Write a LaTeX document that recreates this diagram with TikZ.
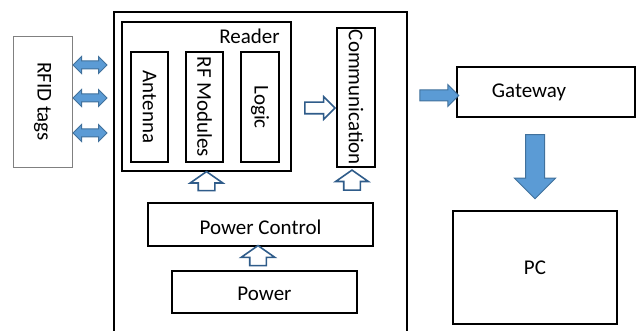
\documentclass[tikz,border=0pt]{standalone}
\usepackage{fontspec}
\setmainfont{Carlito}
\usetikzlibrary{shapes.arrows,calc}
\definecolor{arrfill}{HTML}{5B9BD5}
\definecolor{arrline}{HTML}{41719C}
\definecolor{openline}{HTML}{2F5C8A}
\tikzset{
  box/.style={draw, line width=1.8pt, inner sep=0pt},
  tagbox/.style={draw=gray, line width=0.9pt, inner sep=0pt},
  fillarrow/.style={single arrow, draw=arrline, fill=arrfill, line width=1pt, inner sep=0pt},
  openarrow/.style={single arrow, draw=openline, fill=white, line width=1.6pt, inner sep=0pt, single arrow tip angle=110},
  tagarrow/.style={double arrow, draw=arrline, fill=arrfill, line width=1pt, inner sep=0pt}
}
\begin{document}
\begin{tikzpicture}[x=1pt,y=-1pt,font=\fontsize{21}{25}\selectfont]
\clip (0,0) rectangle (640,331);
% reader unit
\node[box, minimum width=293, minimum height=336] (unit) at (260.5,180) {};
\node[box, minimum width=169, minimum height=149] (reader) at (206.5,96.5) {};
\node[anchor=north east, inner sep=0pt] (readerlbl) at ([xshift=-12pt,yshift=-8pt]reader.north east) {Reader};
\node[box, rotate=-90, minimum width=110, minimum height=37] (antenna) at (149.5,107) {Antenna};
\node[box, rotate=-90, minimum width=110, minimum height=37] (rfmod) at (204.5,107) {RF Modules};
\node[box, rotate=-90, minimum width=110, minimum height=38] (logic) at (260,107) {Logic};
\node[box, rotate=-90, minimum width=139, minimum height=38] (comm) at (356,97.5) {Communication};
\node[box, minimum width=225, minimum height=43] (pwrctl) at (260.5,224.5) {};
\node (pwrctllbl) at ([yshift=-2.5pt]pwrctl.center) {Power Control};
\node[box, minimum width=185, minimum height=42] (power) at (264.5,292) {};
\node (powerlbl) at ([yshift=-2pt]power.center) {Power};
% outside
\node[tagbox, rotate=-90, minimum width=131, minimum height=59] (tags) at (42.5,101.5) {RFID tags};
\node[box, minimum width=178, minimum height=50] (gateway) at (546,92) {};
\node (gwlbl) at ([xshift=-17pt]gateway.center) {Gateway};
\node[box, minimum width=164, minimum height=113] (pc) at (535,267.5) {PC};
% arrows
\foreach \y [count=\i] in {65,98,133}
  \node[tagarrow, minimum height=34, minimum width=16, inner ysep=3.5pt, double arrow head extend=4.5pt] (tagarr\i) at (90,\y) {};
\node[openarrow, minimum height=30, minimum width=21, inner ysep=5pt, single arrow head extend=5.5pt, single arrow tip angle=90] (rdarr) at (317,108) {};
\node[openarrow, rotate=90, minimum height=19, minimum width=31, inner ysep=7.5pt, single arrow head extend=8pt] (uparr1) at ($(reader.south)!0.5!(reader.south |- pwrctl.north)-(0,3)$) {};
\node[openarrow, rotate=90, minimum height=20, minimum width=31, inner ysep=7.5pt, single arrow head extend=8pt] (uparr2) at (352,183) {};
\node[openarrow, rotate=90, minimum height=20, minimum width=32, inner ysep=7.5pt, single arrow head extend=8.5pt] (uparr3) at ($(pwrctl.south)!0.5!(pwrctl.south |- power.north)-(2.5,0)$) {};
\node[fillarrow, minimum height=39, minimum width=21, inner ysep=5pt, single arrow head extend=5.5pt] (gwarr) at (436.5,95.5) {};
\node[fillarrow, rotate=-90, minimum height=64, minimum width=40, inner ysep=9pt, single arrow head extend=11pt] (pcarr) at (535,162) {};
\end{tikzpicture}
\end{document}
